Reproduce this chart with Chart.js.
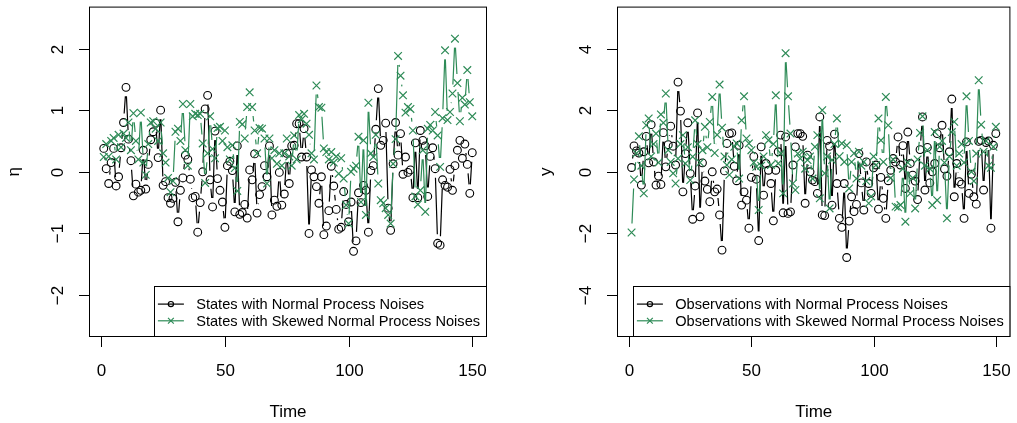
<!DOCTYPE html>
<html>
<head>
<meta charset="utf-8">
<script src="https://cdn.jsdelivr.net/npm/chart.js@4.4.1/dist/chart.umd.min.js"></script>
<style>
html,body{margin:0;padding:0;background:#ffffff;}
#wrap{position:relative;width:1017px;height:423px;overflow:hidden;}
canvas{position:absolute;top:0;}
</style>
</head>
<body>
<div id="wrap">
<canvas id="c1" width="508" height="423" style="left:0px"></canvas>
<canvas id="c2" width="509" height="423" style="left:508px"></canvas>
</div>
<script>
// ---------- data ----------
const timeIdx = Array.from({length: 150}, (_, i) => i + 1);

const xTicks = [0, 50, 100, 150];
const xTickLabels = ['0', '50', '100', '150'];
const yTicksLeft = [-2, -1, 0, 1, 2];
const yTickLabelsLeft = ['\u22122', '\u22121', '0', '1', '2'];
const yTicksRight = [-4, -2, 0, 2, 4];
const yTickLabelsRight = ['\u22124', '\u22122', '0', '2', '4'];

const legendLeft = ['States with Normal Process Noises', 'States with Skewed Normal Process Noises'];
const legendRight = ['Observations with Normal Process Noises', 'Observations with Skewed Normal Process Noises'];

const statesNormal = [
  0.38, 0.05, -0.19, 0.15, 0.38, -0.23, -0.08, 0.39, 0.8, 1.37,
  0.53, 0.18, -0.39, -0.2, -0.33, -0.3, 0.35, -0.28, 0.12, 0.52,
  0.65, 0.79, 0.23, 1.0, -0.22, -0.16, -0.42, -0.51, -0.43, -0.17,
  -0.81, -0.3, -0.1, 0.27, 0.2, -0.12, -0.42, -0.4, -0.98, -0.5,
  0, 1.02, 1.24, -0.13, -0.57, 0.66, -0.11, -0.3, -0.49, -0.9,
  0.1, 0.17, 0.02, -0.65, 0.42, -0.69, -0.66, -0.53, -0.75, 0.03,
  -0.13, 0.29, -0.67, -0.37, -0.24, 0.1, -0.08, 0.42, -0.7, -0.46,
  -0.56, -0.01, -0.54, -0.36, 0.3, -0.19, 0.42, 0.43, 0.78, 0.78,
  0.24, 0.7, 0.24, -1.0, 0.03, -0.08, -0.24, -0.51, -0.08, -1.02,
  -0.88, -0.63, 0.09, -0.23, -0.61, -0.93, -0.9, -0.32, -0.53, -0.81,
  -0.49, -1.29, -1.12, -0.34, -0.5, -0.22, -0.3, -0.98, 0.02, 0.1,
  0.69, 1.35, 0.43, 0.51, 0.79, -0.59, -0.95, 0.13, 0.8, 0.27,
  0.62, -0.04, 0.24, -0.01, 0.03, -0.42, 0.47, -0.42, 0.67, 0.51,
  0.42, -0.4, 0.25, 0.39, 0.05, -1.16, -1.19, -0.13, -0.22, -0.25,
  0.04, -0.3, 0.1, 0.35, 0.51, 0.22, 0.45, 0.12, -0.35, 0.31
];

const statesSkewed = [
  0.24, 0.45, 0.25, 0.5, 0.55, 0.2, 0.6, 0.4, 0.62, 0.55,
  0.8, 0.35, 0.95, 0.5, 0.2, 0.96, 0.15, -0.05, 0.45, 0.8,
  0.82, 0.7, 0.5, 0.8, 0.3, 0.15, -0.1, -0.33, -0.15, 0.65,
  0.7, 0.5, 1.1, 0.35, 0.1, 1.1, 0.9, 0.94, 0.92, 0.94,
  0.46, -0.18, 0.3, 0.9, 0.37, 0.22, 0.71, 0.73, 0.5, 0.67,
  0.4, 0.2, 0.43, 0.06, -0.31, 0.81, 0.77, 0.54, 1.05, 1.29,
  1.05, 0.67, 0.3, 0.71, 0.7, 0.54, -0.19, 0.54, 0.22, 0.35,
  0.13, 0.3, 0.1, 0.3, 0.54, 0.25, 0.1, 0.59, 0.2, 0.92,
  0.85, 0.94, 0.78, 0.6, 0.3, 0.2, 1.4, 1.05, 1.04, 0.38,
  0.32, 0.2, 0.32, 0.15, 0.25, -0.03, 0.22, -0.11, -0.54, -0.84,
  0, 0.05, 0.1, 0.57, -0.49, 0.51, -0.7, 1.12, 0.3, 0.24,
  0.6, -0.19, -0.46, -0.51, -0.59, -0.7, -0.84, 0.13, 0.53, 1.88,
  1.56, 1.24, 0.96, 1.05, 1.02, 0.67, -0.4, -0.53, -0.3, 0.35,
  -0.65, 0.7, 0.76, 0.67, 0.97, 0.59, 0.08, 0.87, 1.97, 0.84,
  0.97, 1.27, 2.16, 1.44, 0.82, 1.2, 1.09, 1.65, 1.13, 0.9
];

const obsNormal = [
  0.14, 0.84, 0.68, 0.61, -0.43, 0.65, 1.15, 0.29, 1.53, 0.32,
  -0.43, -0.14, -0.41, 1.27, 0.16, 0.88, 1.48, 0.83, 0.22, 2.91,
  1.97, -0.65, 0.59, 1.59, -0.05, -1.54, -0.46, 1.91, -1.46, 0.29,
  -0.3, -0.57, -0.97, 0, -0.65, -0.56, -1.4, -2.54, 0.03, 0.92,
  1.24, 1.26, 0.18, -0.29, 0.86, -1.08, -0.65, -0.92, -1.83, -0.18,
  0.5, -0.24, -2.23, 0.81, -0.76, 0.27, 0.05, -0.38, -1.59, 0.05,
  0.65, 1.19, -1.33, 1.13, -1.35, -1.3, 0.22, 0.81, 1.24, 1.24,
  1.15, -1.02, 0.54, 0, -0.27, -0.32, -0.7, 1.78, -1.4, -1.42,
  1.02, 0.83, -1.08, 1.22, -0.38, -1.51, -1.8, -0.38, -2.78, -1.6,
  -0.81, -1.29, -1.06, 0.59, -0.36, -1.24, 0.32, -0.38, -0.7, 0.13,
  0.22, -1.21, -0.18, -0.86, -1.51, -0.29, 0.05, 0.43, 0.32, 1.13,
  0.22, 0.85, -0.54, 1.29, 0.27, -0.11, -0.3, -0.9, 0.72, 1.78,
  -0.59, 0.79, -0.36, 0, 0.27, 1.24, 0.78, 1.51, 0.09, -0.14,
  0.65, 2.36, -0.81, 0.27, -0.32, -0.4, -1.51, 0.97, -0.7, -0.08,
  -0.81, -1.05, 0.99, 1.02, -0.59, 0.95, 1.0, -1.83, 0.86, 1.24
];

const obsSkewed = [
  -1.97, -0.25, 0.6, 1.15, 0.2, -0.7, 1.51, 1.73, 0.5, 0.9,
  1.24, 0.3, 1.86, 1.59, 2.54, 0.7, 0.32, -0.05, -0.38, 0.43,
  0.9, 1.19, 0.27, 0.8, -0.27, 0.49, 1.67, 0.9, 0.3, 0.7,
  1.46, 0.8, 1.62, 2.43, 0.61, 1.2, 2.83, 1.43, 0.5, 0.22,
  -0.1, 0.4, 0.81, 0.92, -0.22, 1.67, 2.45, 1.08, 0.92, 0.7,
  0.3, 0.16, -1.24, 0.2, 0.5, 1.19, 1.02, 0.22, 0.9, 2.48,
  0.27, 0.6, -0.7, 3.85, 2.45, 1.24, -0.38, -0.59, 0.59, 0.43,
  0.65, 0.1, 0.38, 0.5, -0.22, 0.81, 1.19, -0.86, 2.0, -0.05,
  0.5, -1.19, 0.38, 0.9, 1.73, 0.5, 0.92, 0.32, 0.86, -0.54,
  0.32, 0.6, -0.22, 0.65, 0.2, 0.32, -0.3, -1.02, -0.8, 0.5,
  0.22, 1.73, 1.02, 0.32, 2.43, 1.51, -0.2, 0.4, -1.13, -1.15,
  -1.08, 0.1, -1.62, 0.3, -0.7, -0.2, -1.19, 0.4, 1.26, 1.8,
  0.2, 0.7, 0.1, -1.08, 1.29, -0.92, 0.81, 1.0, 0.3, -1.51,
  0.5, 1.29, 1.62, 0.2, 0.59, 0.9, 0.3, 2.45, 1.0, 0,
  -0.3, 0.59, 2.97, 1.53, 0.65, 1.0, 0.2, 0.13, 0.81, 1.46
];

// ---------- styling ----------
const FONT = '"Liberation Sans", Arial, Helvetica, sans-serif';
const GREEN = '#2E8B57';
const GAP = 9;

function rPlot(cfg) {
  return {
    id: 'rplot',
    beforeDatasetDraw(chart, args) {
      // R type="b": line segments with gaps around the points
      const ds = chart.data.datasets[args.index];
      const pts = args.meta.data;
      const ctx = chart.ctx;
      ctx.save();
      ctx.strokeStyle = ds.borderColor;
      ctx.lineWidth = ds.segWidth || 1;
      ctx.beginPath();
      for (let i = 0; i < pts.length - 1; i++) {
        const a = pts[i], b = pts[i + 1];
        const dx = b.x - a.x, dy = b.y - a.y;
        const d = Math.hypot(dx, dy);
        if (d > 2 * GAP) {
          const ux = dx / d, uy = dy / d;
          ctx.moveTo(a.x + ux * GAP, a.y + uy * GAP);
          ctx.lineTo(b.x - ux * GAP, b.y - uy * GAP);
        }
      }
      ctx.stroke();
      ctx.restore();
    },
    afterDraw(chart) {
      const ctx = chart.ctx;
      const ca = chart.chartArea;
      const xs = chart.scales.x, ys = chart.scales.y;
      ctx.save();
      ctx.strokeStyle = '#000';
      ctx.fillStyle = '#000';
      ctx.lineWidth = 1;
      // box
      ctx.strokeRect(ca.left + 0.5, ca.top + 0.5, ca.right - ca.left - 1, ca.bottom - ca.top - 1);
      const bLine = ca.bottom - 0.5;
      const lLine = ca.left + 0.5;
      ctx.font = '17px ' + FONT;
      // x ticks
      ctx.textAlign = 'center';
      ctx.textBaseline = 'alphabetic';
      cfg.xTicks.forEach((v, i) => {
        const px = Math.round(xs.getPixelForValue(v)) + 0.5;
        ctx.beginPath();
        ctx.moveTo(px, bLine);
        ctx.lineTo(px, bLine + 10.5);
        ctx.stroke();
        ctx.fillText(cfg.xLabels[i], px, ca.bottom + 39);
      });
      // y ticks
      cfg.yTicks.forEach((v, i) => {
        const py = Math.round(ys.getPixelForValue(v)) + 0.5;
        ctx.beginPath();
        ctx.moveTo(lLine, py);
        ctx.lineTo(lLine - 10.5, py);
        ctx.stroke();
        ctx.save();
        ctx.translate(ca.left - 26.5, py);
        ctx.rotate(-Math.PI / 2);
        ctx.fillText(cfg.yLabels[i], 0, 0);
        ctx.restore();
      });
      // titles
      ctx.fillText('Time', (ca.left + ca.right) / 2, ca.bottom + 80);
      ctx.save();
      ctx.translate(ca.left - cfg.yTitleOff, (ca.top + ca.bottom) / 2);
      ctx.rotate(-Math.PI / 2);
      ctx.fillText(cfg.yTitle, 0, 0);
      ctx.restore();
      // legend
      ctx.font = '14.6px ' + FONT;
      const tw = Math.max(...cfg.legend.map(l => ctx.measureText(l).width));
      const bw = 41.7 + tw + 7.2;
      const bx = Math.round(ca.right - bw) + 0.5;
      const by = Math.round(ca.bottom - 51) + 0.5;
      ctx.fillStyle = '#fff';
      ctx.fillRect(bx, by, ca.right - 0.5 - bx, bLine - by);
      ctx.strokeStyle = '#000';
      ctx.strokeRect(bx, by, ca.right - 0.5 - bx, bLine - by);
      const rows = [by + 17.6, by + 34.3];
      const cols = ['#000', GREEN];
      rows.forEach((cy, i) => {
        ctx.strokeStyle = cols[i];
        ctx.lineWidth = 1.2;
        ctx.beginPath();
        ctx.moveTo(bx + 3.4, cy);
        ctx.lineTo(bx + 29.4, cy);
        ctx.stroke();
        const mx = bx + 16.4;
        ctx.beginPath();
        if (i === 0) {
          ctx.arc(mx, cy, 2.6, 0, Math.PI * 2);
        } else {
          ctx.moveTo(mx - 2.9, cy - 2.9); ctx.lineTo(mx + 2.9, cy + 2.9);
          ctx.moveTo(mx - 2.9, cy + 2.9); ctx.lineTo(mx + 2.9, cy - 2.9);
        }
        ctx.stroke();
        ctx.fillStyle = '#000';
        ctx.textAlign = 'left';
        ctx.fillText(cfg.legend[i], bx + 41.7, cy + 5.2);
      });
      ctx.restore();
    }
  };
}

function makeChart(id, normal, skewed, yLim, yTicks, yLabels, yTitle, yTitleOff, legend, pad) {
  const toXY = arr => arr.map((v, i) => ({x: timeIdx[i], y: v}));
  return new Chart(document.getElementById(id), {
    type: 'line',
    data: {
      datasets: [
        {
          label: legend[0], data: toXY(normal), showLine: false,
          borderColor: '#000', pointBorderColor: '#000',
          pointBackgroundColor: 'rgba(0,0,0,0)',
          pointStyle: 'circle', pointRadius: 3.9, pointBorderWidth: 1.1,
          order: 1, segWidth: 1.2
        },
        {
          label: legend[1], data: toXY(skewed), showLine: false,
          borderColor: GREEN, pointBorderColor: GREEN,
          pointBackgroundColor: GREEN,
          pointStyle: 'crossRot', pointRadius: 5.4, pointBorderWidth: 1.2,
          order: 0, segWidth: 1.2
        }
      ]
    },
    options: {
      responsive: false,
      animation: false,
      events: [],
      layout: {padding: pad},
      plugins: {legend: {display: false}, tooltip: {enabled: false}},
      scales: {
        x: {type: 'linear', min: -4.96, max: 155.96, display: false},
        y: {type: 'linear', min: -yLim, max: yLim, display: false}
      }
    },
    plugins: [rPlot({xTicks: xTicks, xLabels: xTickLabels, yTicks: yTicks, yLabels: yLabels, yTitle: yTitle, yTitleOff: yTitleOff, legend: legend})]
  });
}

makeChart('c1', statesNormal, statesSkewed, 2.68, yTicksLeft, yTickLabelsLeft, '\u03b7', 70, legendLeft,
  {left: 89, right: 21, top: 2, bottom: 86});
makeChart('c2', obsNormal, obsSkewed, 5.36, yTicksRight, yTickLabelsRight, 'y', 66, legendRight,
  {left: 109, right: 2, top: 2, bottom: 86});
</script>
</body>
</html>
